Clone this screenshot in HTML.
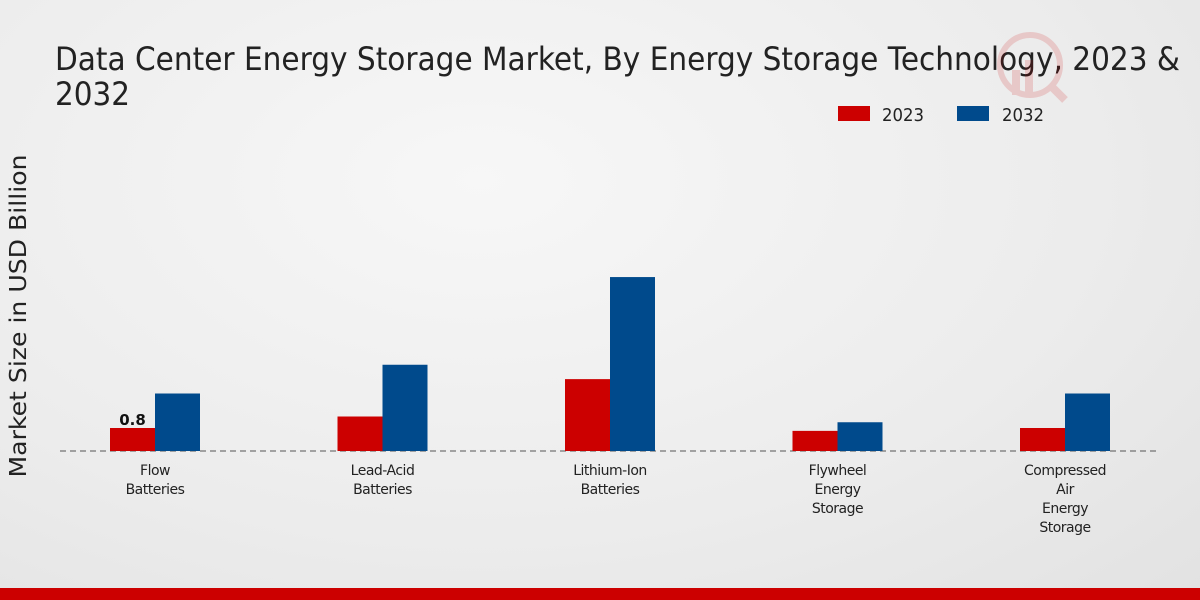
<!DOCTYPE html>
<html><head><meta charset="utf-8"><style>
body{margin:0;width:1200px;height:600px;overflow:hidden;font-family:"DejaVu Sans","Liberation Sans",sans-serif;}
#bg{position:absolute;left:0;top:0;width:1200px;height:600px;background:radial-gradient(ellipse at 40% 30%,#f7f7f7 0%,#ececec 60%,#e2e2e2 100%);}
</style></head><body>
<div id="bg"></div>
<svg width="1200" height="600" style="position:absolute;left:0;top:0" id="chart">
<text x="55" y="70" font-size="32" fill="#222" textLength="1125" lengthAdjust="spacingAndGlyphs">Data Center Energy Storage Market, By Energy Storage Technology, 2023 &amp;</text>
<text x="55" y="105" font-size="32" fill="#222" textLength="75" lengthAdjust="spacingAndGlyphs">2032</text>
<g opacity="0.15">
<circle cx="1030" cy="65" r="30" fill="none" stroke="#c00" stroke-width="6"/>
<rect x="1012" y="70" width="8" height="25" fill="#c00"/><rect x="1025" y="60" width="8" height="35" fill="#c00"/>
<line x1="1050" y1="85" x2="1065" y2="100" stroke="#c00" stroke-width="8"/>
</g>
<g>
<rect x="838" y="106" width="32" height="15" fill="#cc0000"/>
<text x="882" y="121" font-size="18" fill="#222" textLength="42" lengthAdjust="spacingAndGlyphs">2023</text>
<rect x="957" y="106" width="32" height="15" fill="#004a8c"/>
<text x="1002" y="121" font-size="18" fill="#222" textLength="42" lengthAdjust="spacingAndGlyphs">2032</text>
</g>
<text transform="translate(26,316) rotate(-90)" text-anchor="middle" font-size="23" fill="#222" textLength="323" lengthAdjust="spacingAndGlyphs">Market Size in USD Billion</text>
<line x1="60" y1="451" x2="1160" y2="451" stroke="#555" stroke-dasharray="6,4"/>
<g id="bars"></g>
<rect x="0" y="588" width="1200" height="12" fill="#cc0000"/>
</svg>
<script>
const categories=[["Flow","Batteries"],["Lead-Acid","Batteries"],["Lithium-Ion","Batteries"],["Flywheel","Energy","Storage"],["Compressed","Air","Energy","Storage"]];
const values2023=[0.8,1.2,2.5,0.7,0.8];
const values2032=[2.0,3.0,6.05,1.0,2.0];
const NS="http://www.w3.org/2000/svg";
const g=document.getElementById('bars');
const base=451,scale=28.75,x0=155,step=227.5,bw=45;
function y(v){return base-v*scale;}
function cx(i){return x0+i*step;}
function mk(t,a){const e=document.createElementNS(NS,t);for(const k in a)e.setAttribute(k,a[k]);g.appendChild(e);return e;}
categories.forEach((c,i)=>{
 const r1=mk('rect',{x:cx(i)-bw,y:y(values2023[i]),width:bw,height:values2023[i]*scale,fill:'#cc0000'});
 
 
 const r2=mk('rect',{x:cx(i),y:y(values2032[i]),width:bw,height:values2032[i]*scale,fill:'#004a8c'});
 
 
 c.forEach((l,j)=>{
  const t=mk('text',{x:cx(i),y:475+j*19,'text-anchor':'middle','font-size':14,fill:'#222',style:'letter-spacing:-0.5px'});
  t.textContent=l;
  
  
 });
});
const vl=mk('text',{x:cx(0)-bw/2,y:y(values2023[0])-3,'text-anchor':'middle','font-size':15,'font-weight':'bold',fill:'#111'});
vl.textContent=values2023[0];


</script>
</body></html>
